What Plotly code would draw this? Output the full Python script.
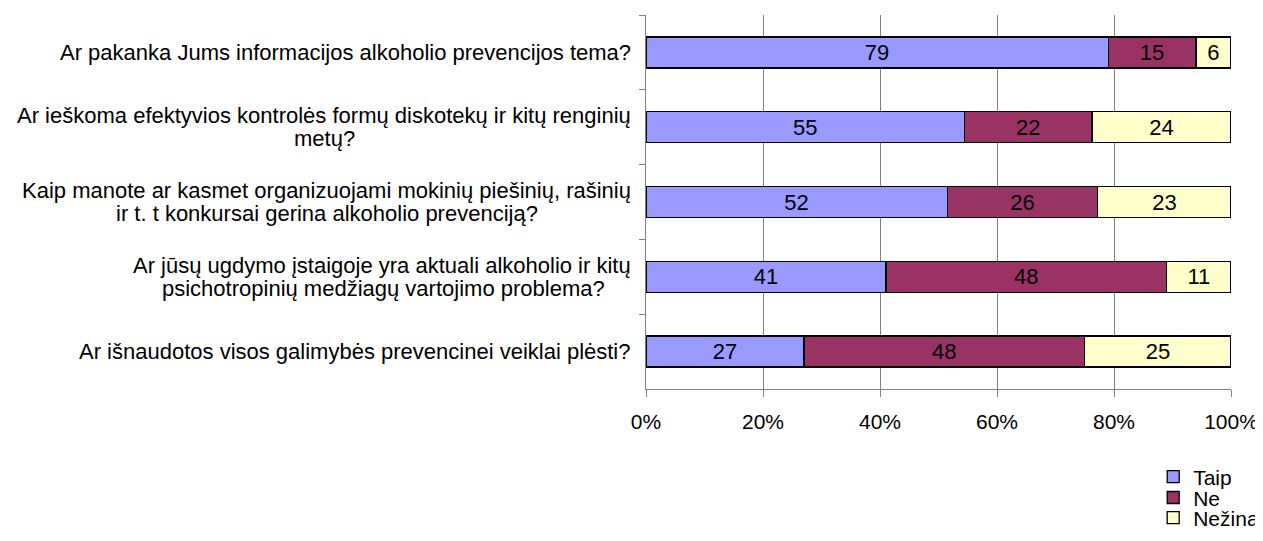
import plotly.graph_objects as go

# question labels: (first line, optional second line)
question_lines = [
    ("Ar pakanka Jums informacijos alkoholio prevencijos tema?", None),
    ("Ar ieškoma efektyvios kontrolės formų diskotekų ir kitų renginių", "metų?"),
    ("Kaip manote ar kasmet organizuojami mokinių piešinių, rašinių", "ir t. t konkursai gerina alkoholio prevenciją?"),
    ("Ar jūsų ugdymo įstaigoje yra aktuali alkoholio ir kitų", "psichotropinių medžiagų vartojimo problema?"),
    ("Ar išnaudotos visos galimybės prevencinei veiklai plėsti?", None),
]
cats = ["Q1", "Q2", "Q3", "Q4", "Q5"]
taip = [79, 55, 52, 41, 27]
ne = [15, 22, 26, 48, 48]
nezinau = [6, 24, 23, 11, 25]
series_names = ["Taip", "Ne", "Nežinau"]
colors = ["#9999FF", "#993366", "#FFFFCC"]
x_ticks = [0, 20, 40, 60, 80, 100]
x_tick_labels = ["0%", "20%", "40%", "60%", "80%", "100%"]

# pixel offsets (from the plot's left edge) of the centre of each wrapped label block
second_line_centre_shift = [None, -322, -319, -263, None]

FONT = "Liberation Sans, Arial, sans-serif"
LBL = 22
fig = go.Figure()
legend_ids = ["legend", "legend2", "legend3"]
for name, vals, col, lg in zip(series_names, [taip, ne, nezinau], colors, legend_ids):
    fig.add_trace(go.Bar(
        y=cats, x=vals, name=name, orientation="h", legend=lg, showlegend=True,
        marker=dict(color=col, line=dict(color="black", width=1.3)),
        text=[str(v) for v in vals], textposition="inside",
        insidetextanchor="middle", textangle=0,
        textfont=dict(family=FONT, size=22, color="black"),
        constraintext="none", hoverinfo="skip",
    ))

for (l1, l2), c, cs in zip(question_lines, cats, second_line_centre_shift):
    afont = dict(family=FONT, size=LBL, color="black")
    if l2 is None:
        fig.add_annotation(x=0, xref="paper", y=c, yref="y", text=l1,
                           showarrow=False, xanchor="right", xshift=-13,
                           font=afont)
    else:
        fig.add_annotation(x=0, xref="paper", y=c, yref="y", text=l1,
                           showarrow=False, xanchor="right", xshift=-13,
                           yshift=11.5, font=afont)
        fig.add_annotation(x=0, xref="paper", y=c, yref="y", text=l2,
                           showarrow=False, xanchor="center", xshift=cs,
                           yshift=-11.5, font=afont)

leg_common = dict(x=0.867, xanchor="left", yanchor="middle",
                  font=dict(family=FONT, size=21, color="black"),
                  bgcolor="rgba(0,0,0,0)", itemwidth=30)
fig.update_layout(
    barmode="stack", barnorm="percent", bargap=0.586,
    width=1263, height=541, showlegend=True,
    margin=dict(l=638, r=40, t=7, b=160, autoexpand=False),
    paper_bgcolor="white", plot_bgcolor="white",
    font=dict(family=FONT, size=21, color="black"),
    uniformtext=dict(minsize=22, mode="show"),
    legend=dict(y=-0.235, **leg_common),
    legend2=dict(y=-0.291, **leg_common),
    legend3=dict(y=-0.345, **leg_common),
    xaxis=dict(range=[0, 100], tickvals=x_ticks, ticktext=x_tick_labels,
               showgrid=True, gridcolor="#808080", gridwidth=1,
               showline=True, linecolor="#808080", linewidth=1,
               ticks="outside", ticklen=7, tickcolor="#808080",
               ticklabelstandoff=7,
               zeroline=False, tickfont=dict(size=21, color="black")),
    yaxis=dict(autorange="reversed", showticklabels=False,
               tickson="boundaries", ticks="outside", ticklen=6,
               tickcolor="#808080", showline=True, linecolor="#808080",
               showgrid=False, zeroline=False),
)

fig.write_html("out.html")
